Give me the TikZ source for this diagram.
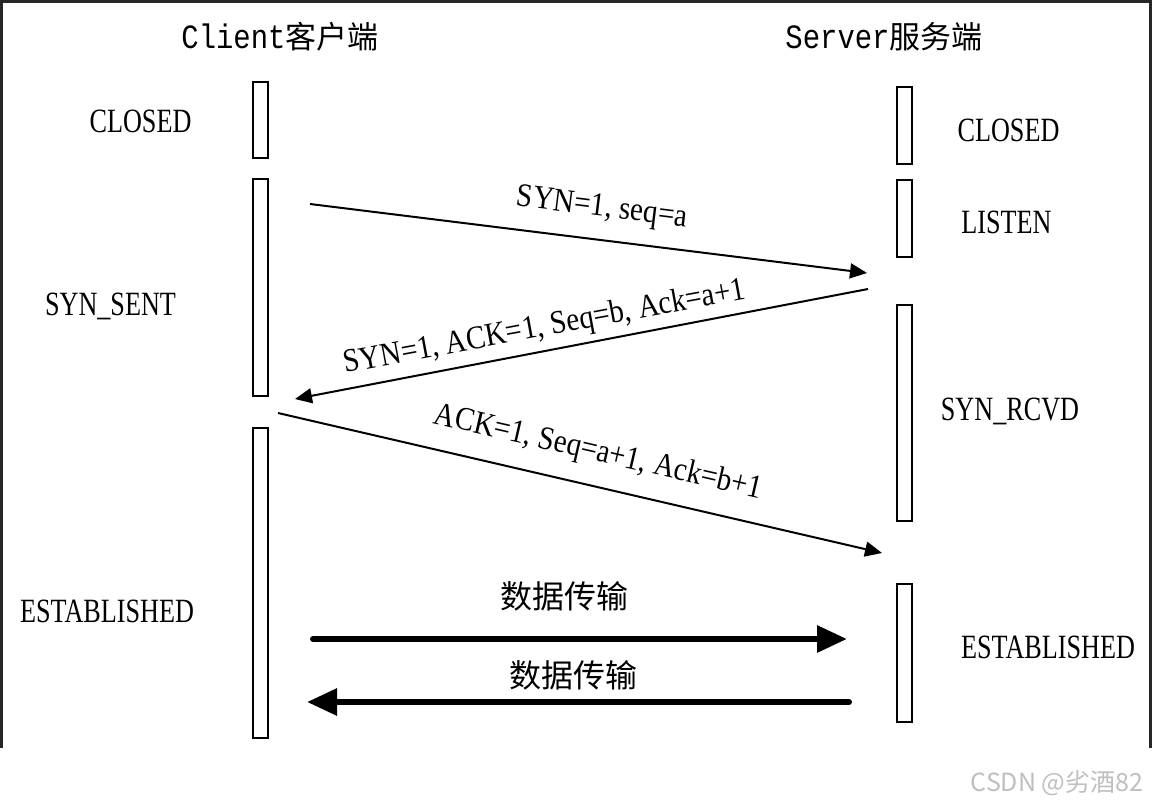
\documentclass[tikz,border=0pt]{standalone}
\usepackage{fontspec}
\setmainfont{Liberation Serif}
\newfontfamily\cjkfont{Noto Sans CJK SC}
\newfontfamily\statefont[FakeStretch=0.77]{Liberation Serif}
\newfontfamily\msgfont[FakeStretch=0.88]{Liberation Serif}
\newfontfamily\headfont[FakeStretch=0.85]{Liberation Mono}
\usepackage{tikz}
\usetikzlibrary{arrows.meta}

\begin{document}
\begin{tikzpicture}
[x=1pt, y=-1pt, every node/.style={inner sep=0pt},
 bar/.style={rectangle, draw=black, line width=2.2pt, minimum width=15pt, fill=white},
 state/.style={anchor=base, font=\fontsize{34}{36}\selectfont\statefont},
 head/.style={font=\fontsize{34}{36}\selectfont\headfont},
 msg/.style={font=\fontsize{33}{36}\selectfont\msgfont},
 datamsg/.style={font=\fontsize{32}{34}\selectfont\cjkfont},
 synarrow/.style={line width=2pt, -{Triangle[length=17pt, width=15pt]}},
 dataarrow/.style={line width=6pt, line cap=round, -{Triangle[length=30pt, width=26pt]}}]
\useasboundingbox (0,0) rectangle (1153,803);
% frame
\draw [line width=3pt, color=black!85] (1.5,748) -- (1.5,1.5) -- (1150,1.5) -- (1150,748);
% headings
\node (client) [head] at (280, 37) {Client{\fontsize{31}{32}\selectfont\cjkfont 客户端}};
\node (server) [head] at (884, 37) {Server{\fontsize{31}{32}\selectfont\cjkfont 服务端}};
% client bars
\node (c1) [bar, minimum height=76pt] at (260.5, 120) {};
\node (c2) [bar, minimum height=217pt] at (260.5, 287.5) {};
\node (c3) [bar, minimum height=310pt] at (260.5, 583) {};
% server bars
\node (s1) [bar, minimum height=77pt] at (904.5, 125.5) {};
\node (s2) [bar, minimum height=77pt] at (904.5, 218.5) {};
\node (s3) [bar, minimum height=216pt] at (904.5, 413) {};
\node (s4) [bar, minimum height=138pt] at (904.5, 653) {};
% states
\node (cclosed) [state] at (140.5, 132) {CLOSED};
\node (csent) [state] at (110.5, 315) {SYN\_SENT};
\node (cest) [state] at (107, 622) {ESTABLISHED};
\node (sclosed) [state] at (1008.5, 141) {CLOSED};
\node (slisten) [state] at (1006.5, 233) {LISTEN};
\node (srcvd) [state] at (1010, 420) {SYN\_RCVD};
\node (sest) [state] at (1048, 658) {ESTABLISHED};
% arrow ends
\coordinate (syn1) at (310, 204);
\coordinate (syn2) at (867, 273);
\coordinate (synack1) at (868, 289);
\coordinate (synack2) at (295, 399);
\coordinate (ack1) at (278, 413);
\coordinate (ack2) at (882, 553);
\coordinate (datac1) at (313, 639);
\coordinate (datas1) at (847, 639);
\coordinate (datas2) at (849, 702);
\coordinate (datac2) at (307, 702);
% handshake
\draw [synarrow] (syn1) to (syn2);
\draw [synarrow] (synack1) to (synack2);
\draw [synarrow] (ack1) to (ack2);
\draw [dataarrow] (datac1) to (datas1);
\draw [dataarrow] (datas2) to (datac2);
% labels
\node (msgsyn) [msg, rotate=-7] at (602, 209) {SYN=1, seq=a};
\node (msgsynack) [msg, rotate=10.5] at (545, 328) {SYN=1, ACK=1, Seq=b, Ack=a+1};
\node (msgack) [msg, rotate=-13] at (598, 453) {ACK=1, Seq=a+1, Ack=b+1};
\node (data1) [datamsg] at (564, 596) {数据传输};
\node (data2) [datamsg] at (573, 675) {数据传输};
\node (mark) [font=\fontsize{25}{26}\selectfont\cjkfont, text=black!25] at (1057, 783) {CSDN @劣酒82};
\end{tikzpicture}
\end{document}
